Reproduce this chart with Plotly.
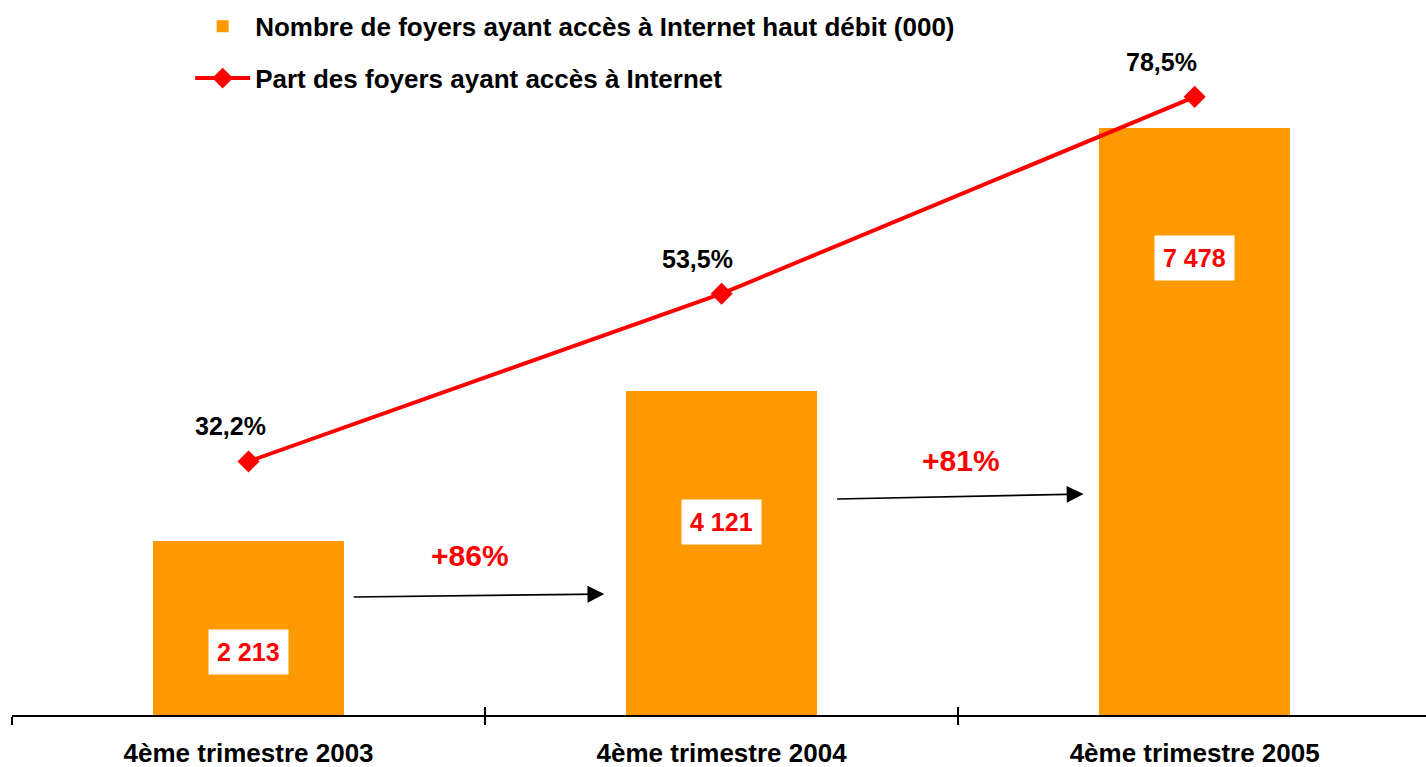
import plotly.graph_objects as go

categories = ["4ème trimestre 2003", "4ème trimestre 2004", "4ème trimestre 2005"]
foyers_hd = [2213, 4121, 7478]          # milliers
part_internet = [32.2, 53.5, 78.5]      # %
bar_labels = ["2 213", "4 121", "7 478"]
pct_labels = ["32,2%", "53,5%", "78,5%"]
growth_labels = ["+86%", "+81%"]

FONT = "Liberation Sans, Arial, sans-serif"
ORANGE = "#FF9900"
RED = "#FF0000"

fig = go.Figure()
fig.add_trace(go.Bar(
    x=categories, y=foyers_hd, name="<b>Nombre de foyers ayant accès à Internet haut débit (000)</b>",
    marker=dict(color=ORANGE, line=dict(width=0)), width=0.404, legendgroup="a",
))
fig.add_trace(go.Scatter(
    x=categories, y=part_internet, yaxis="y2", mode="lines+markers",
    name="<b>Part des foyers ayant accès à Internet</b>",
    line=dict(color=RED, width=4), marker=dict(symbol="diamond", size=17, color=RED),
    legendgroup="b",
))
fig.add_trace(go.Scatter(x=categories, y=[None] * 3, xaxis="x3", showlegend=False, hoverinfo="skip"))

ann = []
# value labels inside bars (white boxes)
label_y = [802, 2459, 5822]
for i, (c, t) in enumerate(zip(categories, bar_labels)):
    ann.append(dict(x=i, y=label_y[i], xref="x", yref="y", text=f"<b>{t}</b>", showarrow=False,
                    font=dict(family=FONT, size=25, color=RED), bgcolor="white", borderpad=8))
# percentage labels above the line
pct_xshift = [-18, -24, -33]
for i, (v, t) in enumerate(zip(part_internet, pct_labels)):
    ann.append(dict(x=i, y=v, xref="x", yref="y2", text=f"<b>{t}</b>", showarrow=False,
                    font=dict(family=FONT, size=25, color="black"), xshift=pct_xshift[i], yshift=35))
# growth arrows
arrows = [((0.219, 1503), (0.752, 1541)), ((1.241, 2752), (1.765, 2815))]
for (x0, y0), (x1, y1) in arrows:
    ann.append(dict(x=x1, y=y1, ax=x0, ay=y0, xref="x", yref="y", axref="x", ayref="y",
                    showarrow=True, arrowhead=2, arrowsize=2.1, arrowwidth=1.6, arrowcolor="black",
                    text=""))
growth_pos = [(0.469, 2038), (1.505, 3248)]
for (x, y), t in zip(growth_pos, growth_labels):
    ann.append(dict(x=x, y=y, xref="x", yref="y", text=f"<b>{t}</b>", showarrow=False,
                    font=dict(family=FONT, size=30, color=RED)))

fig.update_layout(
    width=1426, height=767,
    margin=dict(l=12, r=0, t=0, b=52),
    paper_bgcolor="white", plot_bgcolor="white",
    font=dict(family=FONT, size=26, color="black"),
    showlegend=True,
    legend=dict(x=0.126, y=0.996, xanchor="left", yanchor="top", bgcolor="rgba(0,0,0,0)",
                font=dict(family=FONT, size=26, color="black"), tracegroupgap=15, itemwidth=55),
    xaxis=dict(type="category", range=[-0.5, 2.489], showline=True, linecolor="black", linewidth=2,
               ticks="outside", ticklen=8, tickwidth=2, tickcolor="black", tickson="boundaries",
               showgrid=False, zeroline=False, ticklabelstandoff=14,
               tickfont=dict(family=FONT, size=26, color="black"), tickprefix="<b>", ticksuffix="</b>"),
    xaxis3=dict(type="category", matches="x", overlaying="x", anchor="y", side="bottom",
                ticks="inside", ticklen=8, tickwidth=2, tickcolor="black", tickson="boundaries",
                showticklabels=False, showgrid=False, zeroline=False, showline=False),
    yaxis=dict(range=[0, 9108], visible=False, showgrid=False, zeroline=False),
    yaxis2=dict(range=[0, 90.8], overlaying="y", visible=False, showgrid=False, zeroline=False),
    annotations=ann,
    bargap=0,
)

fig.write_html("out.html", config={"displayModeBar": False},
               post_script="document.body.style.margin='0';document.body.style.overflow='hidden';")
